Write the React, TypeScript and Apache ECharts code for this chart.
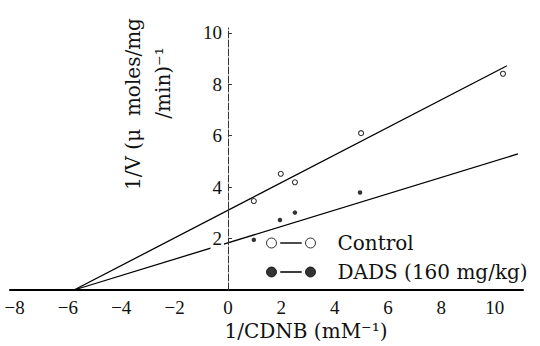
import React, { useEffect, useRef } from "react";
import * as echarts from "echarts";

// x ticks, y ticks
const xTicks = [-8, -6, -4, -2, 0, 2, 4, 6, 8, 10];
const yTicks = [2, 4, 6, 8, 10];

// Measured points: [1/CDNB, 1/V]
const controlPoints = [
  [0.97, 3.46],
  [1.98, 4.52],
  [2.51, 4.19],
  [4.99, 6.1],
  [10.31, 8.41],
];
const dadsPoints = [
  [0.97, 1.95],
  [1.95, 2.72],
  [2.51, 3.01],
  [4.95, 3.79],
];

// Fitted lines (endpoints)
const controlFit = [
  [-5.77, 0],
  [10.46, 8.72],
];
const dadsFit = [
  [-5.77, 0],
  [10.87, 5.29],
];

const seriesNames = ["Control", "DADS (160 mg/kg)"];
const xTitle = "1/CDNB (mM⁻¹)";
const yTitle1 = "1/V (μ\u00a0\u00a0moles/mg";
const yTitle2 = "/min)⁻¹";

const legendIcon =
  "path://M0,5A5,5,0,1,1,10,5A5,5,0,1,1,0,5Z M14,4.7L35,4.7L35,5.3L14,5.3Z M39,5A5,5,0,1,1,49,5A5,5,0,1,1,39,5Z";

const serif = "'DejaVu Serif', serif";
const tickFont = "'Liberation Serif', 'Times New Roman', Times, serif";

const X_MIN = -8.17;
const X_MAX = 11.06;
const GRID_LEFT = 10;
const GRID_RIGHT = 17;

export default function App() {
  const ref = useRef<HTMLDivElement>(null);

  useEffect(() => {
    document.body.style.margin = "0";
    const chart = echarts.init(ref.current!, null, { renderer: "svg" });
    const gridWidth = 540 - GRID_LEFT - GRID_RIGHT;
    const zeroOffset = ((0 - X_MIN) / (X_MAX - X_MIN)) * gridWidth;
    chart.setOption({
      animation: false,
      backgroundColor: "#fff",
      grid: {
        left: GRID_LEFT,
        right: GRID_RIGHT,
        top: 28,
        bottom: 56,
        outerBoundsMode: "none",
      },
      xAxis: {
        type: "value",
        min: X_MIN,
        max: X_MAX,
        axisLine: { show: true, onZero: true, lineStyle: { color: "#000", width: 2 } },
        axisTick: { show: false },
        splitLine: { show: false },
        axisLabel: {
          customValues: xTicks,
          formatter: (v: number) => (v < 0 ? "−" + Math.abs(v) : String(v)),
          fontFamily: tickFont,
          fontSize: 19,
          color: "#111",
          margin: 8,
        },
      },
      yAxis: {
        type: "value",
        min: 0,
        max: 10.19,
        z: 3,
        offset: -zeroOffset,
        axisLine: {
          show: true,
          onZero: false,
          lineStyle: { color: "#333", width: 1, type: [7, 2] },
        },
        axisTick: {
          show: true,
          inside: true,
          length: 4,
          customValues: yTicks,
          lineStyle: { color: "#333" },
        },
        splitLine: { show: false },
        axisLabel: {
          customValues: yTicks,
          fontFamily: tickFont,
          fontSize: 19,
          color: "#111",
          margin: 4,
          backgroundColor: "#fff",
          padding: [1, 2],
        },
      },
      legend: {
        orient: "vertical",
        left: 266,
        top: 233,
        padding: 0,
        itemGap: 9,
        itemWidth: 49,
        itemHeight: 10,
        selectedMode: false,
        textStyle: {
          fontFamily: serif,
          fontSize: 20,
          color: "#111",
          padding: [0, 0, 0, 17],
        },
        data: [
          { name: seriesNames[0], icon: legendIcon, itemStyle: { borderWidth: 1 } },
          {
            name: seriesNames[1],
            icon: legendIcon,
            itemStyle: { borderWidth: 1, borderColor: "#000" },
          },
        ],
      },
      series: [
        {
          type: "line",
          data: controlFit,
          symbol: "none",
          silent: true,
          lineStyle: { color: "#000", width: 1.3 },
          z: 2,
        },
        {
          type: "line",
          data: dadsFit,
          symbol: "none",
          silent: true,
          lineStyle: { color: "#000", width: 1.3 },
          z: 2,
        },
        {
          type: "scatter",
          name: seriesNames[0],
          data: controlPoints,
          symbol: "circle",
          symbolSize: 5,
          itemStyle: { color: "#fff", borderColor: "#000", borderWidth: 1.1 },
          z: 4,
        },
        {
          type: "scatter",
          name: seriesNames[1],
          data: dadsPoints,
          symbol: "circle",
          symbolSize: 4.5,
          itemStyle: { color: "#000", borderColor: "#000", borderWidth: 0 },
          z: 4,
        },
      ],
      graphic: [
        {
          type: "text",
          x: 306,
          y: 331,
          style: {
            text: xTitle,
            fontFamily: serif,
            fontSize: 20,
            fill: "#111",
            align: "center",
            textAlign: "center",
            verticalAlign: "middle",
            textVerticalAlign: "middle",
          },
        },
        {
          type: "text",
          x: 133,
          y: 104,
          rotation: Math.PI / 2,
          style: {
            text: yTitle1,
            fontFamily: serif,
            fontSize: 20,
            fill: "#111",
            align: "center",
            textAlign: "center",
            verticalAlign: "middle",
            textVerticalAlign: "middle",
          },
        },
        {
          type: "text",
          x: 163,
          y: 83,
          rotation: Math.PI / 2,
          style: {
            text: yTitle2,
            fontFamily: serif,
            fontSize: 20,
            fill: "#111",
            align: "center",
            textAlign: "center",
            verticalAlign: "middle",
            textVerticalAlign: "middle",
          },
        },
      ],
    });
    return () => chart.dispose();
  }, []);

  return (
    <div
      ref={ref}
      style={{ position: "fixed", left: 0, top: 0, width: 540, height: 346, background: "#fff" }}
    />
  );
}
